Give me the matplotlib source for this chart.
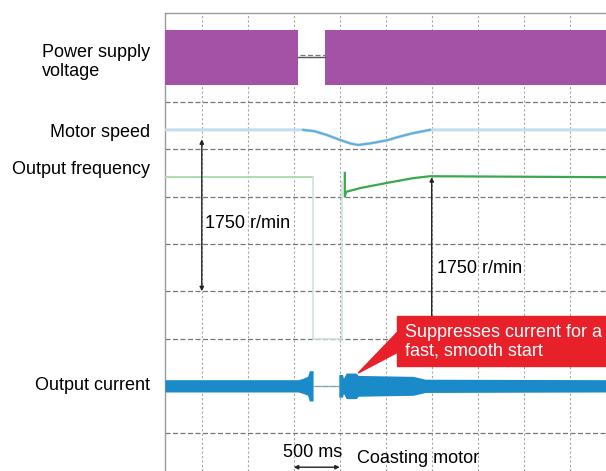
import matplotlib.pyplot as plt
from matplotlib.patches import Polygon, Rectangle

plt.rcParams['font.family'] = ['Liberation Sans', 'DejaVu Sans']

# time in ms, levels in scope divisions (grid = 1 div, 500 ms per div)
t_start, t_end = -400, 4400

# power supply voltage: envelope of the mains wave, lost between t_off and t_on
volt_center = 7.94
volt_half = 0.58
volt_off = 1046
volt_on = 1340

# motor speed
speed_t = [-400, 1101, 1230, 1362, 1500, 1620, 1699, 1850, 2014, 2155, 2297, 2481, 4400]
speed_y = [6.41, 6.41, 6.38, 6.30, 6.20, 6.12, 6.09, 6.13, 6.19, 6.27, 6.34, 6.41, 6.41]

# output frequency (before loss / after restart)
freq_before_t = [-400, 1210]
freq_before_y = [5.41, 5.41]
freq_gap_t = [1210, 1210, 1525, 1525]
freq_gap_y = [5.41, 2.0, 2.0, 5.30]
freq_after_t = [1555, 1555, 1570, 1723, 2016, 2299, 2481, 4400]
freq_after_y = [5.50, 5.00, 5.10, 5.18, 5.29, 5.39, 5.43, 5.41]

# output current envelope (half width around centre line)
cur_center = 1.0
cur1_t = [-400, 1050, 1100, 1150, 1170, 1210]
cur1_h = [0.13, 0.13, 0.16, 0.20, 0.32, 0.32]
cur2_t = [1490, 1530, 1540, 1570, 1680, 1700, 2000, 2300, 2430, 4400]
cur2_h = [0.24, 0.24, 0.16, 0.27, 0.27, 0.22, 0.21, 0.20, 0.14, 0.13]

fs = 13

fig = plt.figure(figsize=(6.06, 4.71), dpi=100)
ax = fig.add_axes([165 / 606, 0, 441 / 606, 1 - 13 / 471])
ax.set_xlim(t_start, 4395)
ax.set_ylim(-0.80, 8.88)

ax.set_xticks(range(0, 4001, 500))
ax.set_yticks(range(0, 9))
ax.tick_params(length=0, labelbottom=False, labelleft=False)
ax.xaxis.grid(True, color='#a5a5a5', linewidth=0.8, linestyle=(0, (2, 2)))
ax.yaxis.grid(True, color='#777777', linewidth=0.9, linestyle=(0, (4, 2)))
ax.set_axisbelow(True)
for s in ['right', 'bottom']:
    ax.spines[s].set_visible(False)
for s in ['left', 'top']:
    ax.spines[s].set_color('#9a9a9a')
    ax.spines[s].set_linewidth(1.0)

# voltage
purple = '#A452A6'
ax.fill_between([t_start, volt_off], volt_center - volt_half, volt_center + volt_half,
                color=purple, lw=0, zorder=3)
ax.fill_between([volt_on, t_end], volt_center - volt_half, volt_center + volt_half,
                color=purple, lw=0, zorder=3)
ax.plot([volt_off, volt_on], [volt_center, volt_center], color='#555555', lw=1, zorder=3)

# speed
ax.plot(speed_t, speed_y, color='#C2DEEE', lw=2.2, zorder=3)
ax.plot(speed_t[1:12], speed_y[1:12], color='#62AEDB', lw=1.5, zorder=3)

# frequency
ax.plot(freq_before_t, freq_before_y, color='#A9DAA9', lw=1.3, zorder=3)
ax.plot(freq_gap_t, freq_gap_y, color='#CFE3DA', lw=1.2, zorder=3)
ax.plot(freq_after_t, freq_after_y, color='#3BA84E', lw=1.6, zorder=3)

# current
blue = '#1A8AC8'
ax.fill_between(cur1_t, [cur_center - h for h in cur1_h], [cur_center + h for h in cur1_h],
                color=blue, lw=0, zorder=3)
ax.fill_between(cur2_t, [cur_center - h for h in cur2_h], [cur_center + h for h in cur2_h],
                color=blue, lw=0, zorder=3)
ax.plot([cur1_t[-1], cur2_t[0]], [cur_center, cur_center], color='#7fa6bd', lw=0.8, zorder=3)

# 1750 r/min markers
ax.annotate('', xy=(0, speed_y[0] - 0.2), xytext=(0, 3.0),
            arrowprops=dict(arrowstyle='<|-|>', color='#222222', lw=1.0,
                            mutation_scale=6, shrinkA=0, shrinkB=0), zorder=4)
ax.text(36, 4.44, '1750 r/min', fontsize=fs, va='center', ha='left', zorder=5)
ax.annotate('', xy=(2500, 5.41), xytext=(2500, 2.0),
            arrowprops=dict(arrowstyle='-|>', color='#222222', lw=1.0,
                            mutation_scale=6, shrinkA=0, shrinkB=0), zorder=4)
ax.text(2557, 3.47, '1750 r/min', fontsize=fs, va='center', ha='left', zorder=5)

# red callout
red = '#E8202A'
ax.add_patch(Rectangle((2123, 1.42), 2400, 1.05, color=red, zorder=6, clip_on=True))
ax.add_patch(Polygon([(1700, 1.27), (2130, 2.14), (2130, 1.71)], closed=True,
                     color=red, zorder=6))
ax.text(2210, 1.93, 'Suppresses current for a\nfast, smooth start', color='white',
        fontsize=fs, va='center', ha='left', linespacing=1.15, zorder=7, clip_on=True)

# bottom annotations
ax.text(1210, -0.40, '500 ms', fontsize=fs, ha='center', va='center', zorder=5)
ax.annotate('', xy=(1000, -0.72), xytext=(1500, -0.72),
            arrowprops=dict(arrowstyle='<|-|>', color='#222222', lw=1.0,
                            mutation_scale=6, shrinkA=0, shrinkB=0), zorder=4)
ax.text(1688, -0.53, 'Coasting motor', fontsize=fs, ha='left', va='center', zorder=5)

# channel labels
lab = dict(fontsize=fs, ha='right', va='center', transform=fig.transFigure)
fig.text(150 / 606, 1 - 62 / 471, 'Power supply\nvoltage', multialignment='left',
         linespacing=1.15, **lab)
fig.text(150 / 606, 1 - 133 / 471, 'Motor speed', **lab)
fig.text(150 / 606, 1 - 170 / 471, 'Output frequency', **lab)
fig.text(150 / 606, 1 - 386 / 471, 'Output current', **lab)

fig.savefig('out.png', dpi=100)
